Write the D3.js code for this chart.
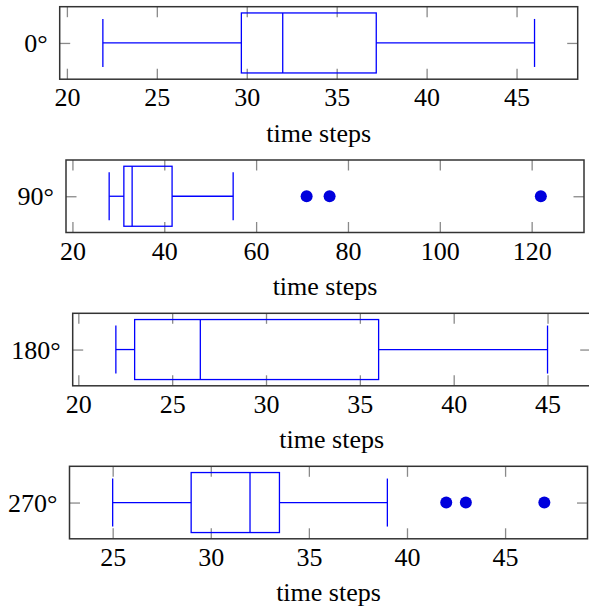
<!DOCTYPE html>
<html>
<head>
<meta charset="utf-8">
<script src="https://cdn.jsdelivr.net/npm/d3@7"></script>
<style>
  html, body { margin: 0; padding: 0; background: #fff; }
  svg { display: block; }
  svg text { font-family: "Liberation Serif", "DejaVu Serif", serif !important; fill: #000; }
</style>
</head>
<body>
<svg id="chart" width="589" height="607" font-family="Liberation Serif, DejaVu Serif, serif"></svg>
<script>
// ---- data ----
const categories     = ["0°", "90°", "180°", "270°"];
const lowerWhisker   = [22,   28,   22,   25];
const lowerQuartile  = [29.7, 31.2, 23,   29];
const medianValue    = [32,   33,   26.5, 32];
const upperQuartile  = [37.2, 41.7, 36,   33.5];
const upperWhisker   = [46,   55,   45,   39];
const outlierValues  = [[], [71, 76, 122], [], [42, 43, 47]];
const xTickValues    = [
  [20, 25, 30, 35, 40, 45],
  [20, 40, 60, 80, 100, 120],
  [20, 25, 30, 35, 40, 45],
  [25, 30, 35, 40, 45]
];
const axisLabel = "time steps";

// ---- layout ----
const panels = [
  { left: 59.7, top: 6.7 },
  { left: 66.0, top: 160.0 },
  { left: 72.7, top: 313.3 },
  { left: 69.5, top: 466.3 }
];
const plotW = 518, plotH = 72.5;
const tickLen = 10.5;
const blue = "#0000ff";
const serif = "'Liberation Serif', 'DejaVu Serif', serif";

const svg = d3.select("#chart");

categories.forEach((cat, i) => {
  const p = panels[i];
  const lo = Math.min(lowerWhisker[i], ...outlierValues[i]);
  const hi = Math.max(upperWhisker[i], ...outlierValues[i]);
  const pad = (hi - lo) * 0.1;
  const x = d3.scaleLinear().domain([lo - pad, hi + pad]).range([0, plotW]);
  const y = d3.scaleLinear().domain([1 - 0.4833, 1 + 0.4833]).range([plotH, 0]);

  const g = svg.append("g").attr("transform", `translate(${p.left},${p.top})`);

  const bottomAxis = d3.axisBottom(x).tickValues(xTickValues[i]).tickSizeInner(-tickLen).tickSizeOuter(0);
  const gb = g.append("g").attr("transform", `translate(0,${plotH})`).call(bottomAxis).attr("font-family", serif);
  gb.select(".domain").remove();
  gb.selectAll(".tick line").attr("stroke", "#8a8a8a").attr("stroke-width", 1.3);
  gb.selectAll(".tick text").attr("font-size", 26).attr("dy", null).attr("y", 27)
    .style("font-family", serif);

  const topAxis = d3.axisTop(x).tickValues(xTickValues[i]).tickSizeInner(-tickLen).tickSizeOuter(0).tickFormat("");
  const gt = g.append("g").call(topAxis);
  gt.select(".domain").remove();
  gt.selectAll(".tick line").attr("stroke", "#8a8a8a").attr("stroke-width", 1.3);

  const leftAxis = d3.axisLeft(y).tickValues([1]).tickSizeInner(-tickLen).tickSizeOuter(0).tickFormat(() => cat).tickPadding(12);
  const gl = g.append("g").call(leftAxis).attr("font-family", serif);
  gl.select(".domain").remove();
  gl.selectAll(".tick line").attr("stroke", "#8a8a8a").attr("stroke-width", 1.3);
  gl.selectAll(".tick text").attr("font-size", 26).attr("dy", "0.33em").style("font-family", serif);

  const rightAxis = d3.axisRight(y).tickValues([1]).tickSizeInner(-tickLen).tickSizeOuter(0).tickFormat("");
  const gr = g.append("g").attr("transform", `translate(${plotW},0)`).call(rightAxis);
  gr.select(".domain").remove();
  gr.selectAll(".tick line").attr("stroke", "#8a8a8a").attr("stroke-width", 1.3);

  const yc = y(1), boxTop = y(1.4), boxBot = y(0.6), capTop = y(1.32), capBot = y(0.68);
  const bg = g.append("g").attr("stroke", blue).attr("stroke-width", 1.3).attr("fill", "none");
  bg.append("line").attr("x1", x(lowerWhisker[i])).attr("x2", x(lowerQuartile[i])).attr("y1", yc).attr("y2", yc);
  bg.append("line").attr("x1", x(upperQuartile[i])).attr("x2", x(upperWhisker[i])).attr("y1", yc).attr("y2", yc);
  bg.append("line").attr("x1", x(lowerWhisker[i])).attr("x2", x(lowerWhisker[i])).attr("y1", capTop).attr("y2", capBot);
  bg.append("line").attr("x1", x(upperWhisker[i])).attr("x2", x(upperWhisker[i])).attr("y1", capTop).attr("y2", capBot);
  bg.append("rect").attr("x", x(lowerQuartile[i])).attr("y", boxTop)
    .attr("width", x(upperQuartile[i]) - x(lowerQuartile[i])).attr("height", boxBot - boxTop);
  bg.append("line").attr("x1", x(medianValue[i])).attr("x2", x(medianValue[i])).attr("y1", boxTop).attr("y2", boxBot);

  g.selectAll("circle.outlier").data(outlierValues[i]).enter().append("circle")
    .attr("class", "outlier").attr("cx", d => x(d)).attr("cy", yc).attr("r", 6)
    .attr("fill", "#0000dd");

  g.append("rect").attr("x", 0).attr("y", 0).attr("width", plotW).attr("height", plotH)
    .attr("fill", "none").attr("stroke", "#333").attr("stroke-width", 1.5);

  g.append("text").attr("x", plotW / 2).attr("y", plotH + 62.5).attr("text-anchor", "middle")
    .attr("font-size", 26).style("font-family", serif).text(axisLabel);
});
</script>
</body>
</html>
